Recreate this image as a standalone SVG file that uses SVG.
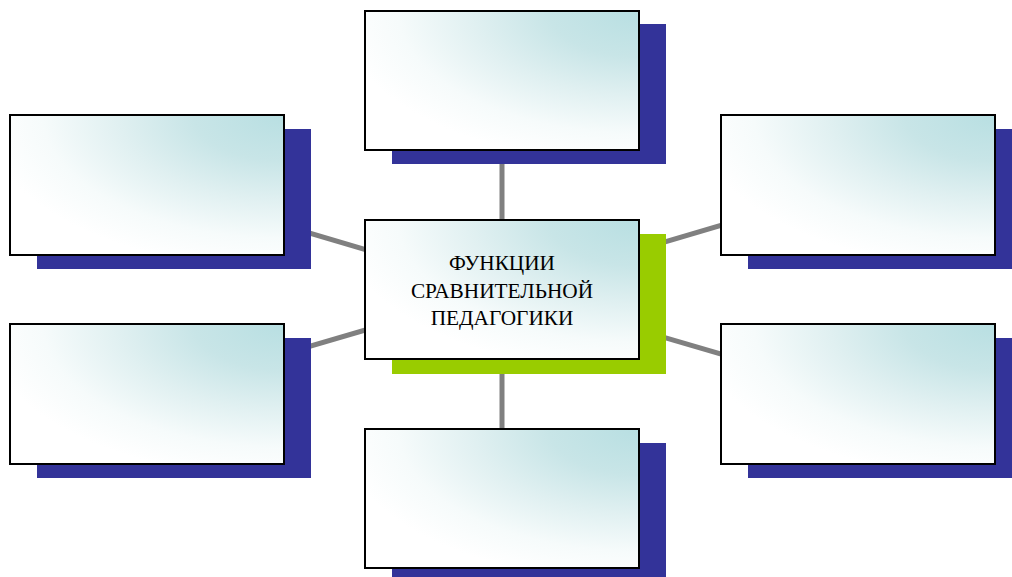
<svg xmlns="http://www.w3.org/2000/svg" width="1012" height="577" viewBox="0 0 1012 577">
<defs>
<radialGradient id="fill" cx="1" cy="0" r="1.1" fx="1" fy="0">
<stop offset="0" stop-color="#b8dfe2"/>
<stop offset="0.3" stop-color="#c8e5e7"/>
<stop offset="0.55" stop-color="#e0f0f1"/>
<stop offset="0.8" stop-color="#f6fbfb"/>
<stop offset="1" stop-color="#ffffff"/>
</radialGradient>
<style>
.box{fill:url(#fill);stroke:#000;stroke-width:2}
.sh{fill:#333399}
.shg{fill:#99cc00}
.ln{stroke:#808080;stroke-width:5;fill:none}
.t{font-family:"Liberation Serif","Times New Roman",serif;font-size:21.3px;fill:#000;text-anchor:middle}
</style>
</defs>
<rect width="1012" height="577" fill="#fff"/>
<g id="connectors">
<line class="ln" x1="502" y1="150" x2="502" y2="290"/>
<line class="ln" x1="502" y1="290" x2="502" y2="429"/>
<line class="ln" x1="147" y1="185" x2="502" y2="290"/>
<line class="ln" x1="147" y1="394" x2="502" y2="290"/>
<line class="ln" x1="858" y1="185" x2="502" y2="290"/>
<line class="ln" x1="858" y1="394" x2="502" y2="290"/>
</g>
<g id="top">
<rect class="sh" x="392" y="24" width="274" height="140"/>
<rect class="box" x="365" y="11" width="274" height="139"/>
</g>
<g id="left-top">
<rect class="sh" x="37" y="129" width="274" height="140"/>
<rect class="box" x="10" y="115" width="274" height="140"/>
</g>
<g id="left-bottom">
<rect class="sh" x="37" y="338" width="274" height="140"/>
<rect class="box" x="10" y="324" width="274" height="140"/>
</g>
<g id="right-top">
<rect class="sh" x="748" y="129" width="274" height="140"/>
<rect class="box" x="721" y="115" width="274" height="140"/>
</g>
<g id="right-bottom">
<rect class="sh" x="748" y="338" width="274" height="140"/>
<rect class="box" x="721" y="324" width="274" height="140"/>
</g>
<g id="bottom">
<rect class="sh" x="392" y="443" width="274" height="140"/>
<rect class="box" x="365" y="429" width="274" height="139"/>
</g>
<g id="center">
<rect class="shg" x="392" y="234" width="274" height="140"/>
<rect class="box" x="365" y="220" width="274" height="139"/>
<text class="t" x="502" y="270">ФУНКЦИИ</text>
<text class="t" x="502" y="297.5">СРАВНИТЕЛЬНОЙ</text>
<text class="t" x="502" y="325">ПЕДАГОГИКИ</text>
</g>
</svg>
